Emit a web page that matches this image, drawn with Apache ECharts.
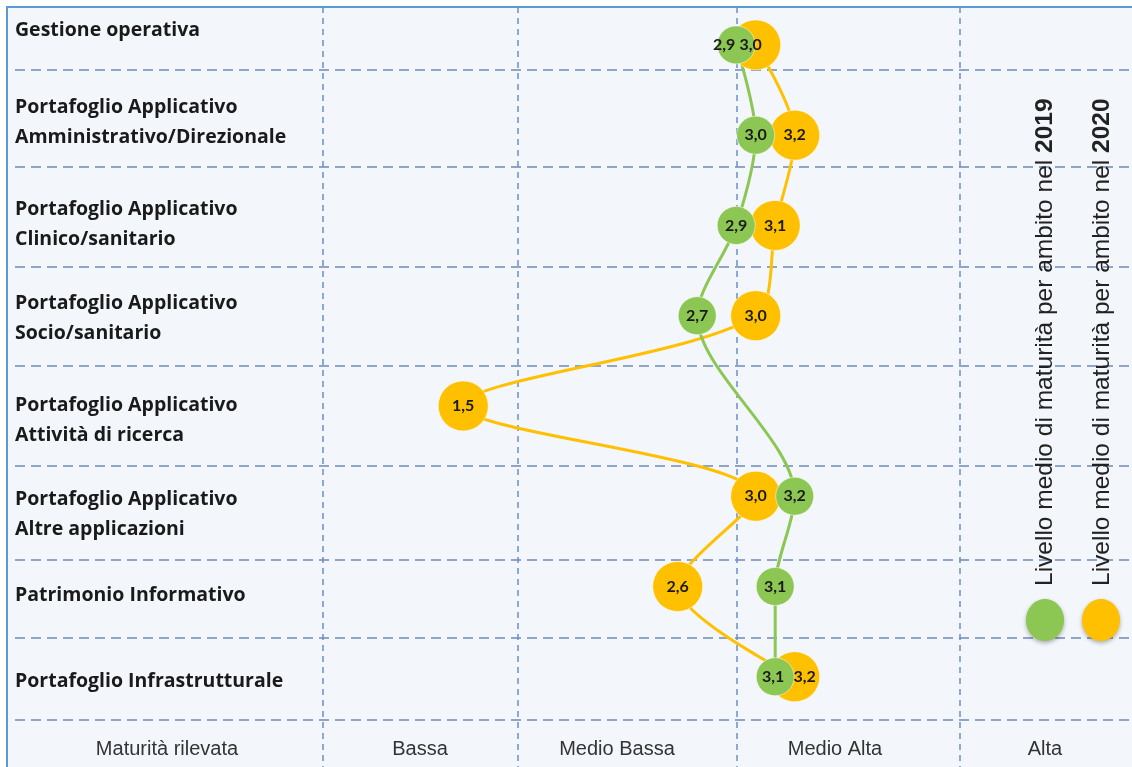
<!DOCTYPE html>
<html>
<head>
<meta charset="utf-8">
<script src="https://cdn.jsdelivr.net/npm/echarts@6/dist/echarts.min.js"></script>
<style>
html, body { margin: 0; padding: 0; background: #fff; }
#chart { width: 1132px; height: 767px; }
</style>
</head>
<body>
<div id="chart"></div>
<script>
// ambiti (righe, dall'alto)
var ambiti = [
	'Gestione operativa',
	'Portafoglio Applicativo\nAmministrativo/Direzionale',
	'Portafoglio Applicativo\nClinico/sanitario',
	'Portafoglio Applicativo\nSocio/sanitario',
	'Portafoglio Applicativo\nAttività di ricerca',
	'Portafoglio Applicativo\nAltre applicazioni',
	'Patrimonio Informativo',
	'Portafoglio Infrastrutturale'
];
// livello medio di maturità
var livelli2019 = [2.9, 3.0, 2.9, 2.7, null, 3.2, 3.1, 3.1];
var livelli2020 = [3.0, 3.2, 3.1, 3.0, 1.5, 3.0, 2.6, 3.2];
// fasce di maturità (riga in basso)
var fasce = ['Maturità rilevata', 'Bassa', 'Medio Bassa', 'Medio Alta', 'Alta'];

var VERDE = '#8cc653';
var ARANCIO = '#ffc000';

// layout della tabella di sfondo (pixel)
var righeBordi = [70, 167, 267, 366, 466, 560, 638, 720];
var colonneBordi = [323, 518, 737, 960];
var righeEtichette = [30, 122, 224, 318, 420, 514, 595, 681];
var colonneEtichette = [167, 420, 617, 835, 1045];

// spostamento etichette dove i cerchi si sovrappongono
var shift2019 = { 0: -12, 7: -2 };
var shift2020 = { 0: -5, 7: 10 };

function toPoints(arr, shift) {
	var out = [];
	for (var i = 0; i < arr.length; i++) {
		var item = { value: arr[i] == null ? ['-', i] : [arr[i], i] };
		if (shift[i] != null) {
			item.label = { offset: [shift[i], 0] };
		}
		out.push(item);
	}
	return out;
}
function fmt(p) {
	return p.value[0].toFixed(1).replace('.', ',');
}

var hLines = [];
for (var i = 0; i < righeBordi.length; i++) {
	hLines.push({ coords: [[15, righeBordi[i]], [1132, righeBordi[i]]] });
}
var vLines = [];
for (var j = 0; j < colonneBordi.length; j++) {
	vLines.push({ coords: [[colonneBordi[j], 7], [colonneBordi[j], 767]] });
}

var labelStyle = {
	show: true, position: 'inside', formatter: fmt,
	fontFamily: 'Lato, sans-serif', fontWeight: 'bold', fontSize: 16, color: '#1a1a1a'
};

var chart = echarts.init(document.getElementById('chart'));
var option = {
	backgroundColor: '#ffffff',
	animation: false,
	grid: {
		left: 7, top: 7, right: 0, bottom: 0,
		show: true,
		backgroundColor: '#f3f6fb',
		borderWidth: 0
	},
	xAxis: [
		{ type: 'value', min: -0.84, max: 4.93, position: 'top', show: false },
		{
			type: 'value', min: 7, max: 1132, position: 'bottom',
			axisLine: { show: false }, axisTick: { show: false }, splitLine: { show: false },
			axisLabel: {
				inside: true, margin: 8,
				customValues: colonneEtichette,
				formatter: function (v) { return fasce[colonneEtichette.indexOf(v)] || ''; },
				fontFamily: 'Liberation Sans, Arial, sans-serif',
				fontSize: 20, color: '#333'
			}
		}
	],
	yAxis: [
		{ type: 'value', min: -0.42, max: 8.0, inverse: true, position: 'right', show: false },
		{
			type: 'value', min: 7, max: 767, inverse: true, position: 'left',
			axisLine: { show: false }, axisTick: { show: false }, splitLine: { show: false },
			axisLabel: {
				margin: -8, align: 'left',
				customValues: righeEtichette,
				formatter: function (v) { return ambiti[righeEtichette.indexOf(v)] || ''; },
				fontFamily: 'Open Sans, sans-serif', fontWeight: 'bold',
				fontSize: 19.5, lineHeight: 30, color: '#1a1a1a'
			}
		}
	],
	series: [
		{
			type: 'lines', coordinateSystem: 'cartesian2d', xAxisIndex: 1, yAxisIndex: 1,
			silent: true, z: 1,
			lineStyle: { color: '#8fa5c6', width: 2, type: [10, 6], opacity: 1 },
			data: hLines
		},
		{
			type: 'lines', coordinateSystem: 'cartesian2d', xAxisIndex: 1, yAxisIndex: 1,
			silent: true, z: 1,
			lineStyle: { color: '#6a8fc8', width: 1.5, type: [6, 5], opacity: 1 },
			data: vLines
		},
		{
			name: '2020', type: 'line', xAxisIndex: 0, yAxisIndex: 0, z: 2,
			data: toPoints(livelli2020, shift2020),
			smooth: 0.3,
			symbol: 'circle', symbolSize: 50,
			lineStyle: { color: ARANCIO, width: 3 },
			itemStyle: { color: ARANCIO, borderColor: 'rgba(255,255,255,0.5)', borderWidth: 1 },
			label: labelStyle
		},
		{
			name: '2019', type: 'line', xAxisIndex: 0, yAxisIndex: 0, z: 2,
			data: toPoints(livelli2019, shift2019),
			connectNulls: true,
			smooth: 0.3,
			symbol: 'circle', symbolSize: 38,
			lineStyle: { color: VERDE, width: 3 },
			itemStyle: { color: VERDE, borderColor: 'rgba(255,255,255,0.5)', borderWidth: 1 },
			label: labelStyle
		}
	],
	graphic: [
		// bordo superiore e sinistro
		{ type: 'rect', shape: { x: 6, y: 6, width: 1126, height: 2 }, style: { fill: '#5b9bd5' }, z: 100 },
		{ type: 'rect', shape: { x: 6, y: 6, width: 2, height: 761 }, style: { fill: '#5b9bd5' }, z: 100 },
		// legenda
		{
			type: 'text', x: 1045, y: 586, rotation: Math.PI / 2, z: 100,
			style: {
				text: 'Livello medio di maturità per ambito nel\u00a0{b|2019}',
				font: '24.5px "Liberation Sans", Arial, sans-serif', fill: '#222',
				textAlign: 'left', textVerticalAlign: 'middle',
				rich: { b: { fontWeight: 'bold', fontSize: 24.5, fontFamily: 'Liberation Sans, Arial, sans-serif', fill: '#222' } }
			}
		},
		{
			type: 'text', x: 1102, y: 586, rotation: Math.PI / 2, z: 100,
			style: {
				text: 'Livello medio di maturità per ambito nel\u00a0{b|2020}',
				font: '24.5px "Liberation Sans", Arial, sans-serif', fill: '#222',
				textAlign: 'left', textVerticalAlign: 'middle',
				rich: { b: { fontWeight: 'bold', fontSize: 24.5, fontFamily: 'Liberation Sans, Arial, sans-serif', fill: '#222' } }
			}
		},
		{
			type: 'ellipse', shape: { cx: 1045, cy: 620, rx: 19, ry: 21 }, z: 100,
			style: { fill: VERDE, shadowBlur: 4, shadowOffsetY: 2, shadowColor: 'rgba(0,0,0,0.3)' }
		},
		{
			type: 'ellipse', shape: { cx: 1101, cy: 620, rx: 19, ry: 21 }, z: 100,
			style: { fill: ARANCIO, shadowBlur: 4, shadowOffsetY: 2, shadowColor: 'rgba(0,0,0,0.3)' }
		}
	]
};
chart.setOption(option);
</script>
</body>
</html>
